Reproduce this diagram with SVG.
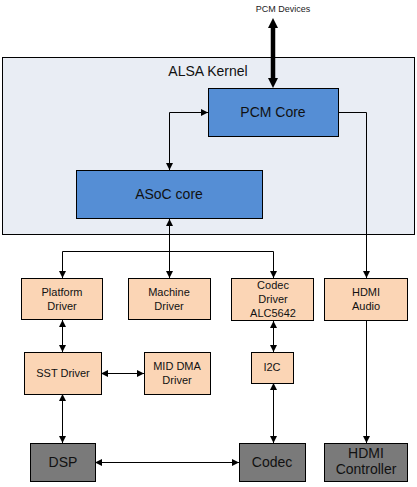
<svg xmlns="http://www.w3.org/2000/svg" width="417" height="487" viewBox="0 0 417 487">
<style>
text{font-family:"Liberation Sans",Arial,sans-serif;fill:#111;text-anchor:middle}
.k{fill:#e9edf4;stroke:#000;stroke-width:1}
.b{fill:#558ed5;stroke:#000;stroke-width:1}
.p{fill:#fbd5b5;stroke:#000;stroke-width:1}
.g{fill:#7a7a7a;stroke:#000;stroke-width:1}
.c{fill:none;stroke:#000;stroke-width:1}
.s{font-size:11px}
.m{font-size:14px}
</style>
<defs>
<marker id="a" viewBox="0 0 10 10" refX="10" refY="5" markerWidth="8" markerHeight="7" markerUnits="userSpaceOnUse" orient="auto-start-reverse"><path d="M0,0L10,5L0,10z" fill="#000"/></marker>
<marker id="t" viewBox="0 0 10 10" refX="2" refY="5" markerWidth="10" markerHeight="13" markerUnits="userSpaceOnUse" orient="auto-start-reverse"><path d="M0,0L10,5L0,10z" fill="#000"/></marker>
</defs>
<rect width="417" height="487" fill="#fff"/>
<g id="kernel"><rect class="k" x="2.5" y="57.5" width="412" height="177"/><text x="208" y="76" class="m">ALSA Kernel</text></g>
<g id="pcmcore"><rect class="b" x="208.5" y="88.5" width="130" height="48"/><text x="273" y="117" class="m">PCM Core</text></g>
<g id="asoc"><rect class="b" x="76.5" y="170.5" width="186" height="48"/><text x="169" y="199" class="m">ASoC core</text></g>
<g id="platform"><rect class="p" x="21.5" y="278.5" width="81" height="41"/><text x="62" y="296" class="s">Platform</text><text x="62" y="310" class="s">Driver</text></g>
<g id="machine"><rect class="p" x="128.5" y="278.5" width="82" height="41"/><text x="169" y="296" class="s">Machine</text><text x="169" y="310" class="s">Driver</text></g>
<g id="codecdrv"><rect class="p" x="231.5" y="278.5" width="82" height="42"/><text x="273" y="289" class="s">Codec</text><text x="273" y="303" class="s">Driver</text><text x="273" y="317" class="s">ALC5642</text></g>
<g id="hdmiaudio"><rect class="p" x="324.5" y="278.5" width="83" height="42"/><text x="366" y="296" class="s">HDMI</text><text x="366" y="310" class="s">Audio</text></g>
<g id="sst"><rect class="p" x="24.5" y="352.5" width="77" height="42"/><text x="63" y="377" class="s">SST Driver</text></g>
<g id="middma"><rect class="p" x="144.5" y="352.5" width="66" height="42"/><text x="177" y="370" class="s">MID DMA</text><text x="177" y="384" class="s">Driver</text></g>
<g id="i2c"><rect class="p" x="251.5" y="352.5" width="42" height="31"/><text x="272" y="371" class="s">I2C</text></g>
<g id="dsp"><rect class="g" x="30.5" y="443.5" width="65" height="38"/><text x="63" y="467" class="m">DSP</text></g>
<g id="codec"><rect class="g" x="239.5" y="443.5" width="66" height="38"/><text x="272" y="467" class="m">Codec</text></g>
<g id="hdmictl"><rect class="g" x="324.5" y="443.5" width="83" height="38"/><text x="366" y="458" class="m">HDMI</text><text x="366" y="474" class="m">Controller</text></g>
<text x="283" y="12" style="font-size:9px;fill:#222">PCM Devices</text>
<g id="connectors">
<line x1="273" y1="26" x2="273" y2="80" stroke="#000" stroke-width="4.5" marker-start="url(#t)" marker-end="url(#t)"/>
<path class="c" d="M169.5,170 V112.5 H208" marker-start="url(#a)" marker-end="url(#a)"/>
<path class="c" d="M338,112.5 H366.5 V278" marker-end="url(#a)"/>
<path class="c" d="M169.5,219 V278" marker-start="url(#a)" marker-end="url(#a)"/>
<path class="c" d="M62.5,278 V251.5 H273.5 V278" marker-start="url(#a)" marker-end="url(#a)"/>
<line class="c" x1="62.5" y1="320" x2="62.5" y2="352" marker-start="url(#a)" marker-end="url(#a)"/>
<line class="c" x1="101" y1="373.5" x2="144" y2="373.5" marker-start="url(#a)" marker-end="url(#a)"/>
<line class="c" x1="273.5" y1="321" x2="273.5" y2="352" marker-start="url(#a)" marker-end="url(#a)"/>
<line class="c" x1="273.5" y1="383" x2="273.5" y2="443" marker-start="url(#a)" marker-end="url(#a)"/>
<line class="c" x1="62.5" y1="394" x2="62.5" y2="443" marker-start="url(#a)" marker-end="url(#a)"/>
<line class="c" x1="95" y1="462.5" x2="239" y2="462.5" marker-start="url(#a)" marker-end="url(#a)"/>
<line class="c" x1="366.5" y1="321" x2="366.5" y2="443" marker-end="url(#a)"/>
</g>
</svg>
